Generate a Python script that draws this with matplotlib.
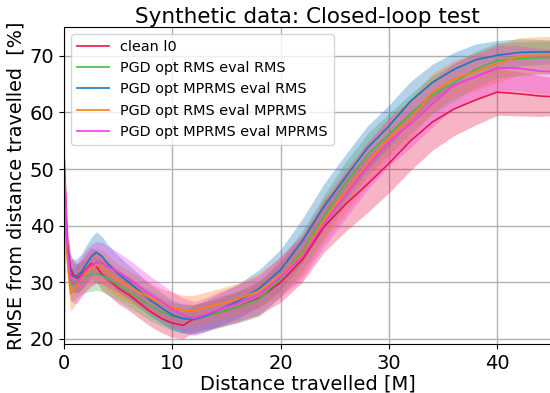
import matplotlib
matplotlib.use("Agg")
import matplotlib.pyplot as plt
import numpy as np

dist = [0, 0.1, 0.3, 0.6, 0.9, 1.2, 1.6, 2.0, 2.5, 3.0, 3.5, 4.0, 5, 6, 7, 8, 9, 10, 11, 12,
        13, 14, 16, 18, 20, 22, 24, 26, 28, 30, 32, 34, 36, 38, 40, 42, 44, 45]

clean_l0 = [53, 47, 37, 32.5, 31.2, 30.7, 31.3, 32.2, 33.3, 32.8, 31.4, 30.7, 29.0, 27.8, 26.3, 24.8,
            23.6, 22.8, 22.4, 23.6, 24.1, 24.5, 25.6, 27.2, 30.0, 34.0, 39.8, 43.8, 47.3, 51.0, 55.0,
            58.3, 60.6, 62.2, 63.6, 63.3, 62.9, 62.8]
clean_l0_std = [3.5, 3.0, 2.8, 2.6, 2.6, 2.6, 2.6, 2.7, 2.8, 2.8, 2.8, 2.8, 2.8, 2.8, 2.7, 2.6, 2.5,
                2.5, 2.4, 2.4, 2.4, 2.5, 2.7, 3.0, 3.5, 4.0, 4.5, 4.8, 5.0, 5.2, 5.2, 5.0, 4.7, 4.4,
                4.1, 3.9, 3.6, 3.4]

rms_rms = [50, 44, 35, 29.5, 29.6, 30.3, 30.8, 31.1, 31.3, 31.5, 31.2, 30.7, 29.5, 28.3, 27.0, 25.8,
           24.8, 24.0, 23.6, 23.6, 24.0, 24.5, 25.6, 27.0, 30.8, 35.5, 41.6, 47.5, 52.5, 56.2, 59.8,
           63.1, 65.3, 67.6, 69.2, 69.5, 69.7, 69.7]
rms_rms_std = [3.0, 3.0, 2.9, 2.9, 2.9, 2.9, 2.9, 2.9, 2.9, 2.9, 2.9, 2.9, 2.8, 2.7, 2.6, 2.6, 2.5,
               2.5, 2.5, 2.5, 2.6, 2.7, 2.8, 3.0, 3.3, 3.6, 3.8, 3.8, 3.7, 3.6, 3.5, 3.4, 3.3, 3.2,
               3.1, 3.0, 2.9, 2.9]

mprms_rms = [50, 45, 36, 31.5, 31.0, 31.2, 31.8, 33.0, 34.5, 35.3, 34.6, 33.4, 31.5, 30.0, 28.4, 26.8,
             25.5, 24.2, 23.6, 23.4, 24.0, 24.9, 26.6, 28.9, 32.2, 37.3, 43.4, 48.6, 53.7, 57.6, 62.0,
             65.3, 67.6, 69.3, 70.1, 70.6, 70.7, 70.7]
mprms_rms_std = [3.0, 3.0, 3.0, 3.0, 3.0, 3.0, 3.2, 3.3, 3.4, 3.6, 3.5, 3.4, 3.2, 3.0, 2.9, 2.8, 2.7,
                 2.6, 2.6, 2.6, 2.7, 2.8, 3.0, 3.3, 3.6, 3.9, 4.0, 4.0, 3.9, 3.7, 3.5, 3.2, 3.0, 2.8,
                 2.6, 2.4, 2.2, 2.1]

rms_mprms = [50, 44, 34, 28.0, 28.6, 29.6, 30.7, 31.5, 32.5, 33.0, 32.8, 31.8, 30.3, 29.2, 28.2, 27.2,
             26.3, 25.6, 25.1, 25.0, 25.5, 26.0, 27.0, 28.5, 31.2, 34.8, 41.0, 46.0, 51.0, 55.5, 58.9,
             63.5, 65.9, 67.2, 68.6, 69.9, 70.1, 70.1]
rms_mprms_std = [3.0, 3.0, 3.0, 3.0, 3.0, 3.0, 3.0, 3.0, 3.0, 3.0, 3.0, 3.0, 2.9, 2.8, 2.7, 2.7, 2.6,
                 2.6, 2.6, 2.7, 2.7, 2.7, 2.8, 3.0, 3.3, 3.6, 3.8, 3.8, 3.7, 3.6, 3.5, 3.4, 3.3, 3.3,
                 3.3, 3.3, 3.3, 3.3]

mprms_mprms = [15, 48, 36, 30.5, 29.8, 29.8, 31.0, 32.0, 33.0, 33.5, 33.4, 32.8, 31.8, 30.6, 29.2, 27.8,
               26.6, 25.3, 24.2, 23.6, 24.2, 25.0, 26.3, 27.8, 31.0, 34.5, 40.3, 45.5, 50.5, 54.8, 58.0,
               61.5, 64.8, 66.3, 67.9, 67.8, 67.3, 67.2]
mprms_mprms_std = [3.5, 3.5, 3.5, 3.5, 3.5, 3.5, 3.6, 3.7, 3.7, 3.7, 3.7, 3.6, 3.5, 3.4, 3.3, 3.2, 3.1,
                   3.0, 3.0, 3.0, 3.0, 3.1, 3.2, 3.4, 3.6, 3.9, 4.1, 4.2, 4.2, 4.2, 4.2, 4.1, 4.0, 4.0,
                   4.0, 4.0, 4.0, 4.0]

labels = ["clean l0", "PGD opt RMS eval RMS", "PGD opt MPRMS eval RMS",
          "PGD opt RMS eval MPRMS", "PGD opt MPRMS eval MPRMS"]
series = [clean_l0, rms_rms, mprms_rms, rms_mprms, mprms_mprms]
stds = [clean_l0_std, rms_rms_std, mprms_rms_std, rms_mprms_std, mprms_mprms_std]
colors = ["#e8174a", "#45b94a", "#1878bf", "#ff7f0e", "#f23ae8"]

fig = plt.figure(figsize=(5.5, 3.93), dpi=100)
ax = fig.add_axes([64 / 550, 1 - 344 / 393, 487.4 / 550, 317 / 393])

x = np.array(dist)
for vals, sd, c in zip(series, stds, colors):
    v = np.array(vals); s = np.array(sd)
    ax.fill_between(x, v - s, v + s, color=c, alpha=0.32, linewidth=0)
for vals, c, lab in zip(series, colors, labels):
    ax.plot(x, vals, color=c, linewidth=1.2, label=lab)

ax.set_xlim(0, 45)
ax.set_ylim(19.1, 75.1)
ax.set_xticks([0, 10, 20, 30, 40])
ax.set_yticks([20, 30, 40, 50, 60, 70])
ax.grid(True, color="#b0b0b0", linewidth=1)
ax.set_axisbelow(True)
ax.tick_params(labelsize=14)
ax.set_title("Synthetic data: Closed-loop test", fontsize=15.5, pad=3)
ax.set_xlabel("Distance travelled [M]", fontsize=14, labelpad=1)
ax.set_ylabel("RMSE from distance travelled  [%]", fontsize=13.8, labelpad=3)
ax.legend(loc="upper left", fontsize=10.4, handlelength=2.2)

fig.savefig("out.png", dpi=100)
